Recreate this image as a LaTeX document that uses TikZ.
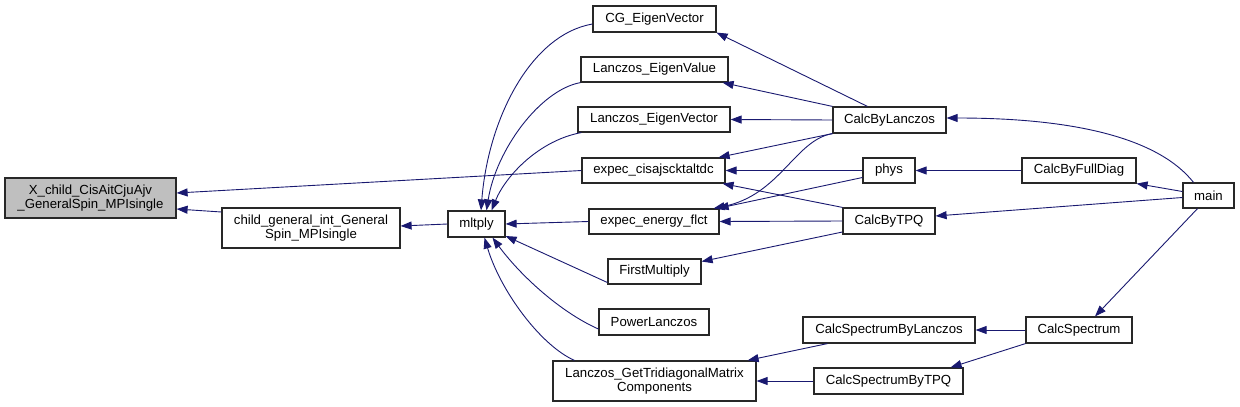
\documentclass[tikz,border=0pt]{standalone}
\usepackage{fontspec}
\setmainfont{Liberation Sans}
\usetikzlibrary{arrows.meta}
\definecolor{edgeblue}{RGB}{25,25,112}
\definecolor{boxline}{RGB}{40,40,40}
\tikzset{
  fn/.style={draw=boxline, line width=1.2pt, inner sep=0pt, align=center,
    font=\fontsize{13.2}{13.6}\selectfont},
  edge/.style={draw=edgeblue, line width=0.9pt,
    -{Triangle[length=11pt,width=8pt]}},
}
\begin{document}
\begin{tikzpicture}[x=1pt,y=-1pt]
\useasboundingbox (0,0) rectangle (1240,407);
% nodes
\node[fn, fill=black!25, minimum width=171pt, minimum height=40pt] (X) at (90.5,198) {X\_child\_CisAitCjuAjv\\\_GeneralSpin\_MPIsingle};
\node[fn, minimum width=178pt, minimum height=40pt] (cg) at (311,228) {child\_general\_int\_General\\Spin\_MPIsingle};
\node[fn, minimum width=57pt, minimum height=26pt] (mlt) at (476.5,224) {mltply};
\node[fn, minimum width=123pt, minimum height=26pt] (cgev) at (654.5,19) {CG\_EigenVector};
\node[fn, minimum width=147pt, minimum height=25pt] (lev) at (654.5,69.5) {Lanczos\_EigenValue};
\node[fn, minimum width=152pt, minimum height=25pt] (levec) at (654,119.5) {Lanczos\_EigenVector};
\node[fn, minimum width=143pt, minimum height=25pt] (ecis) at (653.5,170.5) {expec\_cisajscktaltdc};
\node[fn, minimum width=130pt, minimum height=25pt] (eef) at (654,221.5) {expec\_energy\_flct};
\node[fn, minimum width=93pt, minimum height=25pt] (fm) at (654.5,271.5) {FirstMultiply};
\node[fn, minimum width=110pt, minimum height=26pt] (pl) at (654,322) {PowerLanczos};
\node[fn, minimum width=203pt, minimum height=40pt] (ltri) at (654.5,381) {Lanczos\_GetTridiagonalMatrix\\Components};
\node[fn, minimum width=113pt, minimum height=26pt] (cbl) at (889.5,120) {CalcByLanczos};
\node[fn, minimum width=52pt, minimum height=25pt] (phys) at (889,170.5) {phys};
\node[fn, minimum width=92pt, minimum height=26pt] (ctpq) at (889,221) {CalcByTPQ};
\node[fn, minimum width=172pt, minimum height=26pt] (csbl) at (889,330) {CalcSpectrumByLanczos};
\node[fn, minimum width=149pt, minimum height=26pt] (csbt) at (888.5,381) {CalcSpectrumByTPQ};
\node[fn, minimum width=114pt, minimum height=25pt] (cbfd) at (1079,170.5) {CalcByFullDiag};
\node[fn, minimum width=106pt, minimum height=26pt] (cs) at (1079,330) {CalcSpectrum};
\node[fn, minimum width=51pt, minimum height=25pt] (main) at (1208.5,195.5) {main};
% edges (caller -> callee, arrow at callee)
\draw[edge] (ecis.west) -- ([yshift=5pt]X.east);
\draw[edge] ([yshift=16pt]cg.west) -- ([yshift=-11pt]X.east);
\draw[edge] (mlt.west) -- ([yshift=2pt]cg.east);
\draw[edge] ([yshift=-5pt]cgev.west) .. controls (530,35) and (488,120) .. ([xshift=4.5pt]mlt.north);
\draw[edge] (lev.south west) .. controls (540,90) and (496,150) .. ([xshift=10pt]mlt.north);
\draw[edge] ([xshift=4pt]levec.south west) .. controls (540,140) and (506,175) .. ([xshift=15pt]mlt.north);
\draw[edge] (eef.west) -- (mlt.east);
\draw[edge] ([yshift=-11pt]fm.west) -- ([yshift=-12pt]mlt.east);
\draw[edge] ([yshift=-7pt]pl.west) .. controls (560,312) and (520,275) .. ([xshift=16pt]mlt.south);
\draw[edge] ([xshift=22pt]ltri.north west) .. controls (540,345) and (500,290) .. ([xshift=8pt]mlt.south);
\draw[edge] ([xshift=35pt]cbl.north west) -- (cgev.south east);
\draw[edge] (cbl.north west) -- ([xshift=-6pt]lev.south east);
\draw[edge] (cbl.west) -- (levec.east);
\draw[edge] (cbl.south west) -- ([xshift=-7pt]ecis.north east);
\draw[edge] (phys.west) -- (ecis.east);
\draw[edge] (ctpq.north west) -- ([xshift=-3pt]ecis.south east);
\draw[edge] (cbl.south west) .. controls (795,140) and (780,195) .. ([xshift=-6pt]eef.north east);
\draw[edge] ([yshift=-7pt]phys.west) -- ([xshift=-2pt]eef.north east);
\draw[edge] (ctpq.west) -- (eef.east);
\draw[edge] ([yshift=-11pt]ctpq.west) -- ([yshift=10pt]fm.east);
\draw[edge] ([xshift=25pt]csbl.south west) -- ([xshift=-9pt]ltri.north east);
\draw[edge] (csbt.west) -- (ltri.east);
\draw[edge] ([xshift=-15pt]main.north) .. controls (1160,140) and (1080,118) .. ([yshift=2pt]cbl.east);
\draw[edge] (cbfd.west) -- (phys.east);
\draw[edge] ([yshift=4pt]main.west) -- (cbfd.south east);
\draw[edge] ([yshift=-2pt]main.west) -- ([yshift=5pt]ctpq.east);
\draw[edge] ([xshift=-11pt]main.south) -- ([xshift=16pt]cs.north);
\draw[edge] (cs.west) -- (csbl.east);
\draw[edge] (cs.south west) -- ([xshift=-13pt]csbt.north east);
\end{tikzpicture}
\end{document}
